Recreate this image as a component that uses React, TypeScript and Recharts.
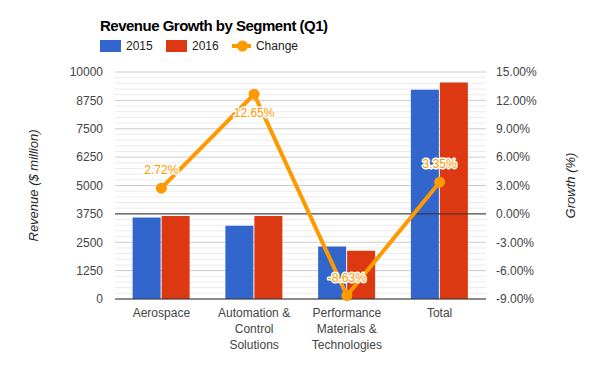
import React from 'react';
import { ComposedChart, Bar, Line, XAxis, YAxis, CartesianGrid, ReferenceLine, LabelList, Text } from 'recharts';

const CATEGORIES = ['Aerospace', 'Automation & Control Solutions', 'Performance Materials & Technologies', 'Total'];
const REV_2015 = [3590, 3230, 2310, 9220];
const REV_2016 = [3660, 3660, 2130, 9540];
const CHANGE = [2.72, 12.65, -8.63, 3.35];

const REV_TICKS = [0, 1250, 2500, 3750, 5000, 6250, 7500, 8750, 10000];
const PCT_TICKS = [-9, -6, -3, 0, 3, 6, 9, 12, 15];
const MINOR_PER_MAJOR = 5;

const BLUE = '#3366CC';
const RED = '#DC3912';
const ORANGE = '#FF9900';
const FONT = 'Arial, "Liberation Sans", sans-serif';
const W = 600;
const H = 371;
const TOP = 72;

const data = CATEGORIES.map((name, i) => ({
  name, y2015: REV_2015[i], y2016: REV_2016[i], change: CHANGE[i],
}));

// minor gridlines: 4 lines between each pair of major ticks
const minorTicks: number[] = [];
for (let i = 0; i < REV_TICKS.length - 1; i++) {
  const step = (REV_TICKS[i + 1] - REV_TICKS[i]) / MINOR_PER_MAJOR;
  for (let k = 1; k < MINOR_PER_MAJOR; k++) minorTicks.push(REV_TICKS[i] + step * k);
}

const CategoryTick = ({ x, y, payload }: any) => (
  <Text x={x} y={y} width={100} textAnchor="middle" verticalAnchor="start" lineHeight={16}
    fontSize={12} fill="#444" fontFamily={FONT}>
    {payload.value}
  </Text>
);

const axisTitle = (text: string, dx: number) => (props: any) => {
  const vb = props.viewBox || {};
  const cx = vb.x + dx;
  const cy = vb.y + vb.height / 2;
  return (
    <text x={cx} y={cy} transform={`rotate(-90, ${cx}, ${cy})`} textAnchor="middle" dominantBaseline="central"
      fontSize={13} fontStyle="italic" fill="#222" fontFamily={FONT}>
      {text}
    </text>
  );
};

const ChangeLabel = ({ x, y, value }: any) => {
  const above = y - 24 > TOP;
  return (
    <text x={x} y={above ? y - 18 : y + 19} textAnchor="middle" dominantBaseline="central" fontSize={12}
      fill={ORANGE} stroke="#fff" strokeWidth={3} strokeLinejoin="round" paintOrder="stroke" fontFamily={FONT}>
      {`${Number(value).toFixed(2)}%`}
    </text>
  );
};

const LegendItem = ({ color, label, line }: { color: string; label: string; line?: boolean }) => (
  <div style={{ display: 'flex', alignItems: 'center', width: 66 }}>
    {line ? (
      <svg width={21} height={12} style={{ marginRight: 5 }}>
        <line x1={0} y1={6} x2={21} y2={6} stroke={color} strokeWidth={4} />
        <circle cx={10.5} cy={6} r={5.5} fill={color} />
      </svg>
    ) : (
      <div style={{ width: 21, height: 12, background: color, marginRight: 5 }} />
    )}
    <span style={{ fontSize: 12, color: '#222' }}>{label}</span>
  </div>
);

export default function App() {
  return (
    <div style={{ position: 'absolute', left: 0, top: 0, width: W, height: H, background: '#fff', fontFamily: FONT }}>
      <div style={{ position: 'absolute', left: 100, top: 17, fontSize: 15, fontWeight: 'bold', color: '#000', letterSpacing: -0.5 }}>
        Revenue Growth by Segment (Q1)
      </div>
      <div style={{ position: 'absolute', left: 100, top: 39, display: 'flex' }}>
        <LegendItem color={BLUE} label="2015" />
        <LegendItem color={RED} label="2016" />
        <LegendItem color={ORANGE} label="Change" line />
      </div>
      <ComposedChart width={W} height={H} data={data} margin={{ top: TOP, right: 0, bottom: 0, left: 0 }}
        barCategoryGap="19%" barGap={1}>
        <CartesianGrid yAxisId="rev" vertical={false} horizontalValues={minorTicks} stroke="#ebebeb" />
        <CartesianGrid yAxisId="rev" vertical={false} horizontalValues={REV_TICKS} stroke="#cccccc" />
        <XAxis dataKey="name" axisLine={false} tickLine={false} height={72} interval={0}
          tickSize={6} tickMargin={3} tick={<CategoryTick />} />
        <YAxis yAxisId="rev" orientation="left" width={115} domain={[0, 10000]} ticks={REV_TICKS}
          axisLine={false} tickLine={false} tickSize={6} tickMargin={6} interval={0}
          tick={{ fontSize: 12, fill: '#444', fontFamily: FONT }}
          label={{ content: axisTitle('Revenue ($ million)', 33) }} />
        <YAxis yAxisId="pct" orientation="right" width={114} domain={[-9, 15]} ticks={PCT_TICKS}
          axisLine={false} tickLine={false} tickSize={6} tickMargin={4} interval={0}
          tickFormatter={(v) => `${Number(v).toFixed(2)}%`}
          tick={{ fontSize: 12, fill: '#444', fontFamily: FONT, textAnchor: 'start' }}
          label={{ content: axisTitle('Growth (%)', 84) }} />
        <Bar yAxisId="rev" dataKey="y2015" name="2015" fill={BLUE} isAnimationActive={false} />
        <Bar yAxisId="rev" dataKey="y2016" name="2016" fill={RED} isAnimationActive={false} />
        <ReferenceLine yAxisId="rev" y={3750} stroke="#333" strokeWidth={1} />
        <ReferenceLine yAxisId="rev" y={0} stroke="#333" strokeWidth={1} />
        <Line yAxisId="pct" type="linear" dataKey="change" name="Change" stroke={ORANGE} strokeWidth={4}
          dot={{ r: 5.5, fill: ORANGE, stroke: 'none' }} activeDot={false} isAnimationActive={false}>
          <LabelList dataKey="change" content={<ChangeLabel />} />
        </Line>
      </ComposedChart>
    </div>
  );
}
